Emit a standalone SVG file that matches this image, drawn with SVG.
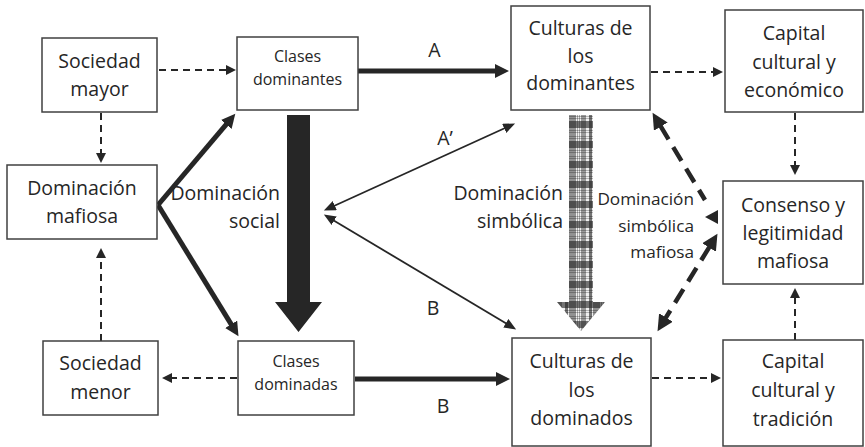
<svg xmlns="http://www.w3.org/2000/svg" width="865" height="447" viewBox="0 0 865 447">
<style>
.box{fill:#fff;stroke:#404040;stroke-width:1.5}
.t{font-family:"Open Sans","Liberation Sans",sans-serif;font-size:19.5px;fill:#262626;text-anchor:middle}
.s{font-size:16px}
.lbl{font-family:"Open Sans","Liberation Sans",sans-serif;font-size:19.5px;fill:#262626}
.sm{font-size:17.2px}
.e{text-anchor:end}
.m{text-anchor:middle}
.dash{stroke:#262626;stroke-width:2;stroke-dasharray:7 5;fill:none;marker-end:url(#ad)}
.thick{stroke:#262626;stroke-width:5;fill:none;marker-end:url(#ah)}
.thin{stroke:#262626;stroke-width:1.8;fill:none;marker-start:url(#at);marker-end:url(#at)}
.tdash{stroke:#262626;stroke-width:4.5;stroke-dasharray:16 9;fill:none}
</style>
<defs>
<marker id="ad" markerUnits="userSpaceOnUse" markerWidth="11" markerHeight="11" refX="1" refY="5" orient="auto-start-reverse" viewBox="0 0 11 11"><path d="M0,0 L10,5 L0,10 z" fill="#262626"/></marker>
<marker id="ah" markerUnits="userSpaceOnUse" markerWidth="15" markerHeight="15" refX="1" refY="7" orient="auto-start-reverse" viewBox="0 0 15 15"><path d="M0,0 L14,7 L0,14 z" fill="#262626"/></marker>
<marker id="at" markerUnits="userSpaceOnUse" markerWidth="13" markerHeight="11" refX="1" refY="5" orient="auto-start-reverse" viewBox="0 0 13 11"><path d="M0,0 L12,5 L0,10 z" fill="#262626"/></marker>
<marker id="am" markerUnits="userSpaceOnUse" markerWidth="17" markerHeight="17" refX="1" refY="8" orient="auto-start-reverse" viewBox="0 0 17 17"><path d="M0,0 L16,8 L0,16 z" fill="#262626"/></marker>
<pattern id="plaid" patternUnits="userSpaceOnUse" x="569" y="115" width="24" height="20">
<rect width="24" height="20" fill="#f0f0f0"/>
<rect x="0" y="0" width="7" height="20" fill="#333" opacity="0.5"/>
<rect x="8" y="0" width="1" height="20" fill="#000" opacity="0.3"/>
<rect x="10" y="0" width="1" height="20" fill="#000" opacity="0.3"/>
<rect x="12" y="0" width="5" height="20" fill="#555" opacity="0.55"/>
<rect x="20" y="0" width="3" height="20" fill="#222" opacity="0.6"/>
<rect x="0" y="1" width="24" height="1" fill="#000" opacity="0.25"/>
<rect x="0" y="3" width="24" height="1" fill="#000" opacity="0.25"/>
<rect x="0" y="6" width="24" height="7" fill="#222" opacity="0.6"/>
<rect x="0" y="15" width="24" height="1" fill="#000" opacity="0.25"/>
<rect x="0" y="17" width="24" height="1" fill="#000" opacity="0.25"/>
</pattern>
</defs>

<g id="connectors">
<line class="dash" x1="159" y1="70" x2="227" y2="70"/>
<line class="dash" x1="101" y1="113" x2="101" y2="154"/>
<line class="dash" x1="101" y1="341" x2="101" y2="257"/>
<line class="dash" x1="237" y1="378" x2="171" y2="378"/>
<line class="dash" x1="651" y1="72" x2="714" y2="72"/>
<line class="dash" x1="795" y1="113" x2="795" y2="166"/>
<line class="dash" x1="795" y1="340" x2="795" y2="297"/>
<line class="dash" x1="652" y1="378" x2="712" y2="378"/>
<line class="thick" x1="358" y1="71" x2="496" y2="71"/>
<line class="thick" x1="355" y1="379" x2="497" y2="379"/>
<line class="thick" x1="158" y1="205" x2="226.9" y2="123.7"/>
<line class="thick" x1="158" y1="205" x2="231.7" y2="325.1"/>
<line class="thin" x1="333.9" y1="206" x2="505.1" y2="128"/>
<line class="thin" x1="333.3" y1="220.2" x2="506.7" y2="323.8"/>
<line class="tdash" x1="660.3" y1="125.7" x2="705" y2="200" marker-start="url(#am)"/>
<polygon points="705,217 718,210 718,224" fill="#262626"/>
<line class="tdash" x1="709.6" y1="246.6" x2="665.4" y2="318.4" marker-start="url(#am)" marker-end="url(#am)"/>
<polygon id="social-arrow" points="287,115 310,115 310,302 322,302 298.5,332 275,302 287,302" fill="#262626"/>
<polygon id="simbolica-arrow" points="569,115 593,115 593,302 605,302 581,331 557,302 569,302" fill="url(#plaid)"/>
</g>

<g id="labels">
<text class="lbl m" x="434.5" y="57">A</text>
<text class="lbl m" x="445" y="145">A’</text>
<text class="lbl m" x="433" y="315">B</text>
<text class="lbl m" x="443" y="413">B</text>
<text class="lbl e" x="280" y="200">Dominación</text>
<text class="lbl e" x="280" y="228">social</text>
<text class="lbl e" x="563" y="200">Dominación</text>
<text class="lbl e" x="563" y="228">simbólica</text>
<text class="lbl sm e" x="694" y="205">Dominación</text>
<text class="lbl sm e" x="694" y="232">simbólica</text>
<text class="lbl sm e" x="694" y="258">mafiosa</text>
</g>

<g id="sociedad-mayor"><rect class="box" x="42" y="38" width="115" height="74"/><text class="t" x="99.5" y="68">Sociedad</text><text class="t" x="99.5" y="96">mayor</text></g>
<g id="clases-dominantes"><rect class="box" x="237" y="37" width="121" height="73"/><text class="t s" x="297.5" y="62">Clases</text><text class="t s" x="297.5" y="85">dominantes</text></g>
<g id="culturas-dominantes"><rect class="box" x="511" y="6" width="139" height="104"/><text class="t" x="580.5" y="35">Culturas de</text><text class="t" x="580.5" y="62.5">los</text><text class="t" x="580.5" y="90">dominantes</text></g>
<g id="capital-economico"><rect class="box" x="725" y="10" width="138" height="102"/><text class="t" x="794" y="40">Capital</text><text class="t" x="794" y="68.5">cultural y</text><text class="t" x="794" y="97">económico</text></g>
<g id="dominacion-mafiosa"><rect class="box" x="7" y="165" width="150" height="74"/><text class="t" x="82" y="195">Dominación</text><text class="t" x="82" y="223">mafiosa</text></g>
<g id="consenso"><rect class="box" x="723" y="181" width="140" height="103"/><text class="t" x="793" y="212">Consenso y</text><text class="t" x="793" y="240">legitimidad</text><text class="t" x="793" y="268">mafiosa</text></g>
<g id="sociedad-menor"><rect class="box" x="43" y="341" width="115" height="74"/><text class="t" x="100.5" y="370">Sociedad</text><text class="t" x="100.5" y="399">menor</text></g>
<g id="clases-dominadas"><rect class="box" x="238" y="341" width="116" height="74"/><text class="t s" x="296" y="367">Clases</text><text class="t s" x="296" y="390">dominadas</text></g>
<g id="culturas-dominados"><rect class="box" x="512" y="338" width="139" height="108"/><text class="t" x="581.5" y="368">Culturas de</text><text class="t" x="581.5" y="397">los</text><text class="t" x="581.5" y="425">dominados</text></g>
<g id="capital-tradicion"><rect class="box" x="723" y="340" width="140" height="106"/><text class="t" x="793" y="368">Capital</text><text class="t" x="793" y="397">cultural y</text><text class="t" x="793" y="426">tradición</text></g>
</svg>
